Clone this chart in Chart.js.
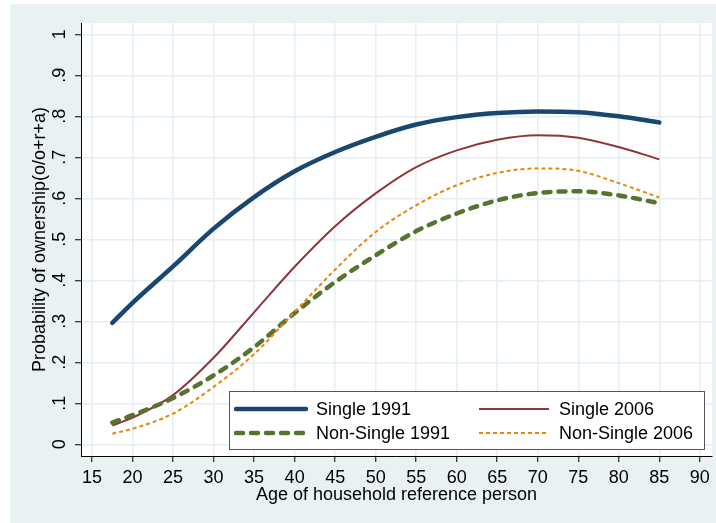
<!DOCTYPE html>
<html lang="en">

<head>
    <meta charset="UTF-8">
    <title>Probability of ownership by age</title>
    <script src="https://cdn.jsdelivr.net/npm/chart.js"></script>
    <style>
        html, body {
            margin: 0;
            padding: 0;
            background: #ffffff;
        }

        #wrap {
            width: 716px;
            height: 523px;
        }
    </style>
</head>

<body>
    <div id="wrap"><canvas id="ownChart" width="716" height="523"></canvas></div>

    <script>
        const ages = [17.5, 20, 25, 30, 35, 40, 45, 50, 55, 60, 65, 70, 75, 80, 85];
        const single1991 = [0.296, 0.345, 0.434, 0.526, 0.603, 0.666, 0.713, 0.750, 0.780, 0.798, 0.808, 0.812, 0.810, 0.800, 0.785];
        const single2006 = [0.046, 0.065, 0.120, 0.211, 0.322, 0.433, 0.532, 0.612, 0.676, 0.717, 0.743, 0.754, 0.748, 0.725, 0.695];
        const nonSingle1991 = [0.053, 0.071, 0.113, 0.168, 0.237, 0.320, 0.396, 0.461, 0.520, 0.563, 0.595, 0.613, 0.617, 0.607, 0.588];
        const nonSingle2006 = [0.026, 0.038, 0.075, 0.140, 0.220, 0.323, 0.426, 0.518, 0.583, 0.632, 0.662, 0.673, 0.667, 0.637, 0.602];

        const seriesNames = ['Single 1991', 'Single 2006', 'Non-Single 1991', 'Non-Single 2006'];
        const xTicks = [15, 20, 25, 30, 35, 40, 45, 50, 55, 60, 65, 70, 75, 80, 85, 90];
        const yTicks = [0, 0.1, 0.2, 0.3, 0.4, 0.5, 0.6, 0.7, 0.8, 0.9, 1];

        const FONT = '"Liberation Sans", Arial, sans-serif';
        const GRID = '#e5eef1';

        function pts(vals) {
            return ages.map((a, i) => ({ x: a, y: vals[i] }));
        }

        function yLabel(v) {
            if (v === 0) return '0';
            if (v === 1) return '1';
            return '.' + Math.round(v * 10);
        }

        // stata-like backdrop: grey-blue outer region, white plot region
        const backdrop = {
            id: 'backdrop',
            beforeDraw(chart) {
                const { ctx, chartArea: a } = chart;
                ctx.save();
                ctx.fillStyle = '#ffffff';
                ctx.fillRect(0, 0, chart.width, chart.height);
                ctx.fillStyle = '#eaf1f3';
                ctx.fillRect(10, 4, chart.width - 10, chart.height - 4);
                ctx.fillStyle = '#ffffff';
                ctx.fillRect(a.left, a.top, a.right - a.left, a.bottom - a.top);
                ctx.restore();
            }
        };

        // legend box sitting inside the plot, two columns
        const boxLegend = {
            id: 'boxLegend',
            afterDraw(chart) {
                const ctx = chart.ctx;
                const cols = [236, 479];
                const rows = [409, 433];
                ctx.save();
                ctx.fillStyle = '#ffffff';
                ctx.fillRect(229, 391, 475, 58);
                ctx.strokeStyle = '#555555';
                ctx.lineWidth = 1;
                ctx.strokeRect(229.5, 391.5, 475, 58);
                chart.data.datasets.forEach((ds, i) => {
                    const cx = cols[i % 2];
                    const cy = rows[Math.floor(i / 2)];
                    ctx.beginPath();
                    ctx.strokeStyle = ds.borderColor;
                    ctx.lineWidth = ds.borderWidth;
                    ctx.lineCap = ds.borderCapStyle || 'butt';
                    ctx.setLineDash(ds.borderDash || []);
                    ctx.moveTo(cx, cy);
                    ctx.lineTo(cx + 70, cy);
                    ctx.stroke();
                    ctx.setLineDash([]);
                    ctx.fillStyle = '#000000';
                    ctx.font = '18px ' + FONT;
                    ctx.textBaseline = 'middle';
                    ctx.textAlign = 'left';
                    ctx.fillText(ds.label, cx + 80, cy + 1);
                });
                ctx.restore();
            }
        };

        const ctx = document.getElementById('ownChart').getContext('2d');
        new Chart(ctx, {
            type: 'line',
            data: {
                datasets: [
                    {
                        label: seriesNames[0],
                        data: pts(single1991),
                        borderColor: '#1a476f',
                        borderWidth: 4.5,
                        borderCapStyle: 'round',
                        order: 4
                    },
                    {
                        label: seriesNames[1],
                        data: pts(single2006),
                        borderColor: '#90353b',
                        borderWidth: 2,
                        order: 3
                    },
                    {
                        label: seriesNames[2],
                        data: pts(nonSingle1991),
                        borderColor: '#55752f',
                        borderWidth: 4.5,
                        borderCapStyle: 'round',
                        borderDash: [7, 8],
                        order: 2
                    },
                    {
                        label: seriesNames[3],
                        data: pts(nonSingle2006),
                        borderColor: '#e8850c',
                        borderWidth: 2,
                        borderDash: [4, 3],
                        order: 1
                    }
                ]
            },
            options: {
                responsive: false,
                animation: false,
                devicePixelRatio: 1,
                layout: { padding: { left: 0, top: 23, right: 4, bottom: 0 } },
                elements: {
                    point: { radius: 0 },
                    line: { cubicInterpolationMode: 'monotone', fill: false }
                },
                plugins: {
                    legend: { display: false },
                    tooltip: { enabled: false }
                },
                scales: {
                    x: {
                        type: 'linear',
                        min: 13.64,
                        max: 91.5,
                        afterBuildTicks: axis => { axis.ticks = xTicks.map(v => ({ value: v })); },
                        afterFit: axis => { axis.height = 67; },
                        grid: { color: GRID, lineWidth: 1.5, tickColor: '#000000', tickLength: 6, tickWidth: 1 },
                        border: { color: '#000000', width: 1 },
                        ticks: {
                            color: '#000000',
                            font: { family: FONT, size: 18 },
                            padding: 5,
                            maxRotation: 0,
                            autoSkip: false
                        },
                        title: {
                            display: true,
                            text: 'Age of household reference person',
                            color: '#000000',
                            font: { family: FONT, size: 18 },
                            padding: { top: 0, bottom: 17 }
                        }
                    },
                    y: {
                        type: 'linear',
                        min: -0.0285,
                        max: 1.0276,
                        afterBuildTicks: axis => { axis.ticks = yTicks.map(v => ({ value: v })); },
                        afterFit: axis => { axis.width = 81; },
                        grid: { color: GRID, lineWidth: 1.5, tickColor: '#000000', tickLength: 6, tickWidth: 1 },
                        border: { color: '#000000', width: 1 },
                        ticks: {
                            color: '#000000',
                            font: { family: FONT, size: 18 },
                            padding: 7.5,
                            minRotation: 90,
                            maxRotation: 90,
                            crossAlign: 'center',
                            autoSkip: false,
                            callback: v => yLabel(v)
                        },
                        title: {
                            display: true,
                            text: 'Probability of ownership(o/o+r+a)',
                            color: '#000000',
                            font: { family: FONT, size: 18 },
                            padding: { top: 29, bottom: 0 }
                        }
                    }
                }
            },
            plugins: [backdrop, boxLegend]
        });
    </script>
</body>

</html>
